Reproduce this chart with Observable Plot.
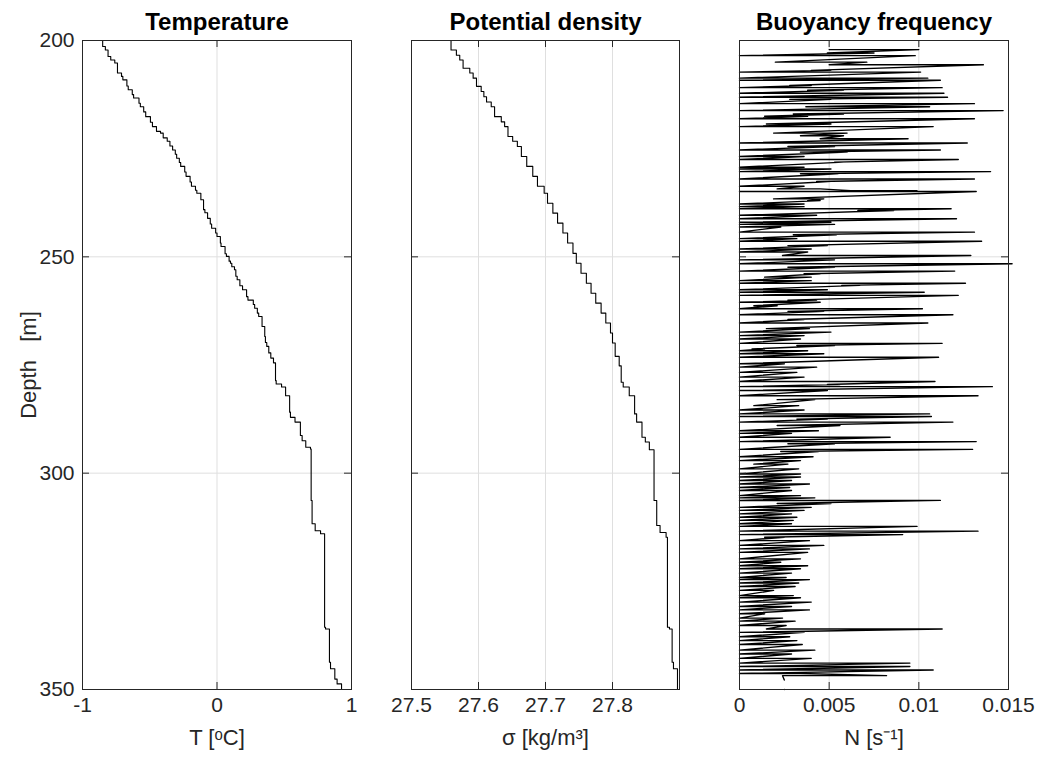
<!DOCTYPE html>
<html><head><meta charset="utf-8">
<script src="https://cdn.jsdelivr.net/npm/d3@7"></script>
<script src="https://cdn.jsdelivr.net/npm/@observablehq/plot@0.6"></script>
<style>
body{margin:0;background:#fff;}
#chart{display:flex;width:1042px;height:757px;overflow:hidden;}
#chart svg{flex:none;}
</style></head><body><div id="chart"></div>
<script>
// ---- tick labels ----
const depthTicks = [200, 250, 300, 350];
const tempTicks = [-1, 0, 1];
const sigmaTicks = [27.5, 27.6, 27.7, 27.8];
const nTicks = [0, 0.005, 0.01, 0.015];

// ---- Temperature profile (depth m, T degC) ----
const tempDepth = [200.0,201.4,202.2,203.7,204.5,205.2,206.6,207.5,208.3,209.1,210.5,211.4,212.5,213.3,214.5,215.3,216.5,217.6,218.9,219.9,221.0,221.4,222.5,223.3,224.4,225.3,226.3,227.2,228.2,229.1,230.4,231.4,232.7,233.7,234.6,235.3,236.8,239.1,239.8,241.1,242.4,243.4,244.5,245.3,246.8,247.6,249.3,249.9,251.0,251.5,252.3,253.0,254.5,255.3,256.7,257.6,259.2,260.0,261.0,261.9,263.0,263.8,266.1,268.4,269.8,270.7,272.2,273.4,274.5,278.6,279.4,280.1,282.1,285.9,287.1,288.2,291.3,292.5,294.0,294.4,306.3,311.7,313.3,314.0,335.6,336.0,343.7,345.2,347.6,348.7,350.0];
const tempValue = [-0.85,-0.83,-0.81,-0.79,-0.76,-0.74,-0.74,-0.71,-0.70,-0.67,-0.66,-0.63,-0.62,-0.58,-0.57,-0.545,-0.53,-0.495,-0.48,-0.45,-0.42,-0.40,-0.37,-0.35,-0.33,-0.31,-0.30,-0.28,-0.27,-0.24,-0.23,-0.20,-0.19,-0.16,-0.15,-0.12,-0.10,-0.09,-0.07,-0.05,-0.04,-0.01,0.00,0.025,0.03,0.06,0.07,0.09,0.10,0.11,0.13,0.14,0.15,0.17,0.19,0.22,0.23,0.27,0.28,0.30,0.31,0.335,0.355,0.36,0.37,0.385,0.40,0.42,0.435,0.44,0.48,0.51,0.54,0.546,0.58,0.62,0.633,0.66,0.695,0.70,0.707,0.73,0.77,0.80,0.807,0.836,0.844,0.876,0.893,0.926,0.931];

// ---- Potential density profile (depth m, sigma kg/m3) ----
const sigmaDepth = [200.0,202.2,203.4,204.5,206.4,207.5,208.7,210.6,211.8,213.0,214.2,215.3,217.6,218.8,219.9,222.2,223.3,224.5,226.8,229.1,231.4,233.7,235.3,237.6,239.9,242.2,244.5,246.8,249.2,251.5,253.8,256.1,258.4,260.7,263.0,265.3,267.6,269.9,273.0,275.2,279.0,280.1,282.1,286.3,288.2,291.7,292.8,294.6,306.3,312.1,313.7,314.8,335.6,336.0,343.7,345.2,350.0];
const sigmaValue = [27.559,27.567,27.572,27.577,27.587,27.592,27.597,27.604,27.608,27.612,27.619,27.624,27.634,27.639,27.644,27.651,27.658,27.664,27.672,27.681,27.688,27.698,27.703,27.711,27.718,27.726,27.733,27.741,27.746,27.753,27.761,27.768,27.775,27.783,27.790,27.797,27.800,27.804,27.810,27.813,27.816,27.825,27.833,27.836,27.844,27.849,27.855,27.862,27.866,27.871,27.880,27.882,27.885,27.889,27.891,27.897,27.899];

// ---- Buoyancy frequency (depth m; N at start and end of each horizontal stroke, in 1e-3 s^-1) ----
const bfDepth = [202.1,202.9,203.5,205.0,205.6,206.9,207.3,208.7,209.2,210.4,210.9,211.5,212.2,213.1,213.6,214.6,215.3,216.2,217.0,217.5,218.1,219.3,219.9,221.4,222.0,222.7,223.7,224.5,225.3,225.8,226.8,227.5,228.1,229.3,229.7,230.3,230.8,232.0,232.6,233.7,234.3,234.7,234.9,236.6,237.0,237.8,238.4,238.9,239.3,240.4,241.2,242.0,242.5,243.1,244.3,244.9,245.8,246.4,247.4,248.2,248.9,249.7,250.7,251.6,252.4,253.3,253.9,254.7,255.5,256.1,256.6,257.6,258.2,258.9,260.0,260.5,261.3,262.0,262.6,263.4,264.5,265.3,266.6,267.4,268.2,269.0,270.0,270.5,271.3,271.7,272.4,273.2,274.7,275.5,276.7,277.8,278.8,279.5,280.0,280.9,282.1,283.0,284.4,285.4,286.3,286.9,287.5,288.2,289.0,290.2,290.8,291.7,292.7,293.2,294.5,295.0,296.2,297.1,297.9,299.0,300.2,300.9,301.7,302.5,303.3,304.0,305.2,305.7,306.3,307.0,307.9,308.6,309.4,310.2,310.9,311.7,312.3,313.4,314.2,314.8,315.6,316.7,317.5,318.3,319.8,320.6,321.4,322.1,323.1,324.1,324.6,325.4,326.2,327.1,328.3,328.8,329.8,330.8,331.6,332.5,333.5,334.2,335.2,336.0,336.8,337.8,338.7,339.6,340.9,341.8,342.8,343.9,344.7,345.5,346.3,346.8,347.8,350.0];
const nStart = [5.0,4.9,0,2.0,5.0,4.0,0,0,0,2.8,0,3.8,0,0,2.8,0,3.7,0,3.0,1.4,0,1.5,0,1.9,3.4,4.5,0,2.7,0,3.4,0,0,5.3,0,0,0,3.4,0,4.3,0,2.1,6.2,0,1.9,3.8,0,0,0,6.6,0,0,0,0,0,0,3.0,0,0,2.7,0,0,2.4,0,0,2.7,0,3.6,1.4,0,0,5.7,0,0,0,2.7,0,0.8,0,2.7,0,2.7,0,1.5,0,0,0,0,3.2,0.7,0,0,0,0,0,0,0,0,4.9,0,0,0,2.1,0.8,0,0,0,3.2,0,2.1,0,0,0,0,2.7,0,2.3,0,0,0.8,0,0,0,0,0,0,0,0,0,0,2.1,0,0,0,0,0,0,0,0,0,1.4,0,0,0,0,0,0,0,0,0,0,0,0,0,0,0,0,0,0,0,0,0,0,0,1.5,0,0,0,0,0,0,0,0,0,0,0,8.2,2.5];
const nEnd = [10.0,7.5,9.8,7.1,13.6,5.1,10.1,10.5,11.2,4.0,11.3,5.8,11.4,11.6,5.1,13.1,10.6,14.7,5.8,3.8,13.1,5.1,10.8,6.0,5.8,9.4,12.7,5.3,11.2,6.0,3.6,12.2,5.8,3.6,5.1,14.0,5.5,13.1,5.1,3.6,4.5,9.9,13.2,4.7,4.5,3.6,3.6,11.8,8.6,4.3,12.1,5.1,5.3,2.3,13.1,5.4,3.2,13.5,4.9,4.0,3.8,12.9,5.3,15.2,5.3,12.0,4.5,4.0,4.0,12.6,6.7,4.9,10.3,12.2,4.3,4.5,2.1,10.2,4.7,11.9,3.6,10.5,3.9,5.1,3.6,3.4,11.3,5.3,1.4,3.8,4.7,11.1,2.5,4.3,3.2,3.6,10.9,5.6,14.1,4.9,13.3,4.2,3.3,3.6,10.6,10.7,4.9,11.9,5.6,4.4,2.9,8.4,13.2,5.3,13.0,4.4,4.1,3.4,2.7,3.3,3.4,3.4,2.9,3.9,2.8,2.9,3.4,4.2,11.2,5.1,4.0,3.6,2.9,3.2,3.0,2.9,9.9,13.3,9.1,2.5,3.9,4.7,3.9,3.8,3.4,2.3,3.8,3.4,2.9,2.6,3.9,3.3,3.1,1.9,3.0,3.4,4.0,2.9,3.9,1.4,2.4,3.1,2.6,11.3,3.6,2.8,3.2,3.5,4.2,2.9,4.0,9.5,9.5,10.8,3.4,2.4,2.5,2.5];

// ---- tables built from the arrays ----
const tempData = tempDepth.map((d, i) => ({d, x: tempValue[i]}));
const sigmaData = sigmaDepth.map((d, i) => ({d, x: sigmaValue[i]}));
const bfData = bfDepth.flatMap((d, i) => [{d, x: nStart[i] / 1000}, {d, x: nEnd[i] / 1000}]);

const H = 757, MT = 40, MB = 68;
const FH = H - MT - MB;
const TICK = 7;
const INK = "#262626";
const GRID = "#dfdfdf";
const FONT = "'Liberation Sans', Arial, Helvetica, sans-serif";

function panel({width, ml, mr, domain, ticks, data, curve, lineWidth, title, xlabel, showY}) {
  const FW = width - ml - mr;
  const marks = [
    Plot.ruleX(ticks, {stroke: GRID}),
    Plot.ruleY(depthTicks, {stroke: GRID}),
    Plot.line(data, {x: "x", y: "d", stroke: "black", strokeWidth: lineWidth, curve}),
    Plot.ruleX(ticks, {stroke: INK, insetBottom: FH - TICK}),
    Plot.ruleX(ticks, {stroke: INK, insetTop: FH - TICK}),
    Plot.ruleY(depthTicks, {stroke: INK, insetRight: FW - TICK}),
    Plot.ruleY(depthTicks, {stroke: INK, insetLeft: FW - TICK}),
    Plot.frame({stroke: INK}),
    Plot.axisX({ticks, tickSize: 0, tickPadding: 8, tickFormat: d => String(d), label: null, fill: INK}),
    Plot.text([title], {text: d => d, frameAnchor: "top", dy: -18, fontSize: 24, fontWeight: "bold", fill: "black", lineAnchor: "middle"}),
    Plot.text([xlabel], {text: d => d, frameAnchor: "bottom", dy: 48, fontSize: 22, fill: INK, lineAnchor: "middle"})
  ];
  if (showY) {
    marks.push(Plot.axisY({ticks: depthTicks, tickSize: 0, tickPadding: 8, tickFormat: d => String(d), label: null, fill: INK}));
    marks.push(Plot.text(["Depth   [m]"], {text: d => d, frameAnchor: "left", dx: -54, rotate: -90, textAnchor: "middle", lineAnchor: "middle", fontSize: 22, fill: INK}));
  }
  return Plot.plot({
    width, height: H,
    marginLeft: ml, marginRight: mr, marginTop: MT, marginBottom: MB,
    style: {fontSize: "21px", fontFamily: FONT, background: "white", overflow: "visible"},
    x: {domain, label: null},
    y: {domain: [200, 350], reverse: true, label: null, axis: showY ? undefined : null},
    marks
  });
}

const chart = document.getElementById("chart");
chart.append(panel({width: 381, ml: 82, mr: 30, domain: [-1, 1], ticks: tempTicks, data: tempData, curve: "step-before", lineWidth: 1.1,
  title: "Temperature", xlabel: "T [\u1D52C]", showY: true}));
chart.append(panel({width: 329, ml: 30, mr: 31, domain: [27.5, 27.9], ticks: sigmaTicks, data: sigmaData, curve: "step-before", lineWidth: 1.1,
  title: "Potential density", xlabel: "\u03C3 [kg/m\u00B3]", showY: false}));
chart.append(panel({width: 332, ml: 29, mr: 34, domain: [0, 0.015], ticks: nTicks, data: bfData, curve: "linear", lineWidth: 1.4,
  title: "Buoyancy frequency", xlabel: "N [s\u207B\u00B9]", showY: false}));
</script></body></html>
